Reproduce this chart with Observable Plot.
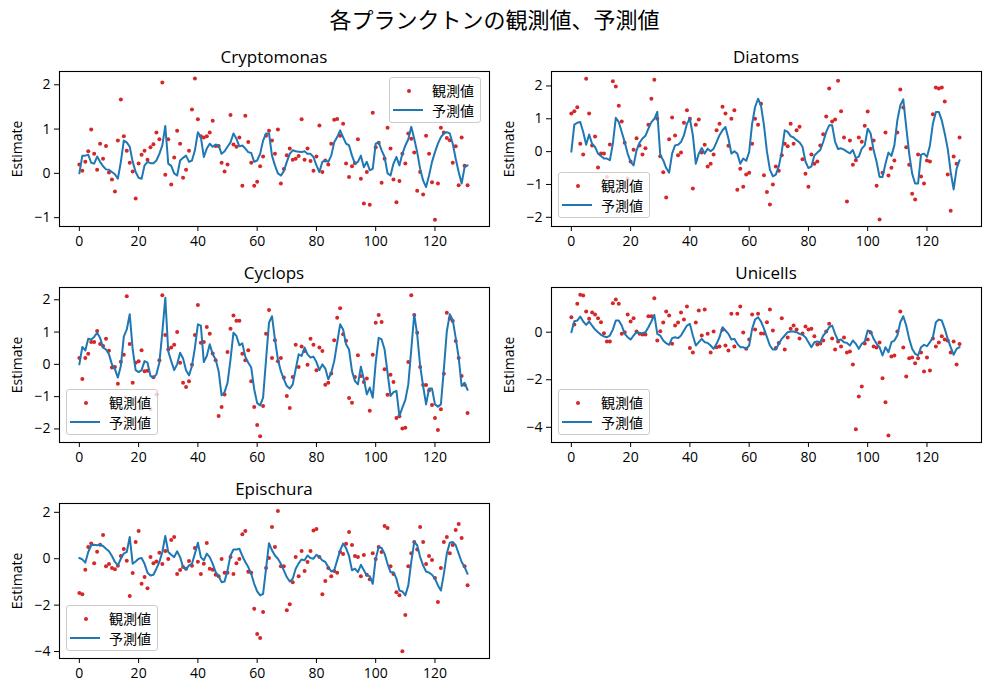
<!DOCTYPE html>
<html><head><meta charset="utf-8">
<script src="https://cdn.jsdelivr.net/npm/d3@7"></script>
<script src="https://cdn.jsdelivr.net/npm/@observablehq/plot@0.6"></script>
<style>
body{margin:0;background:#fff;}
#fig{position:relative;width:989px;height:691px;background:#fff;font-family:'Open Sans','Noto Sans CJK JP',sans-serif;color:#000;overflow:hidden}
.abs{position:absolute}
.suptitle{left:0;width:989px;top:3px;line-height:30px;text-align:center;font-size:22px;font-family:'Noto Sans CJK JP',sans-serif}
.title{width:430px;text-align:center;font-size:17px;line-height:20px;white-space:nowrap}
.ylabel{width:140px;height:20px;line-height:20px;text-align:center;font-size:14px;transform:rotate(-90deg)}
.legend{width:92px;height:46px;box-sizing:border-box;border:1px solid #cccccc;border-radius:3px;background:rgba(255,255,255,0.8)}
.legend .dot{position:absolute;left:17px;top:10.5px;width:4px;height:4px;border-radius:50%;background:#d62728}
.legend .ln{position:absolute;left:3px;top:30.5px;width:30px;height:2px;background:#1f77b4}
.legend .tx{position:absolute;left:42px;font-size:14px;line-height:18px;font-family:'Noto Sans CJK JP',sans-serif;white-space:nowrap}
</style>
</head><body>
<div id="fig"><div class="abs suptitle">各プランクトンの観測値、予測値</div></div>
<script>
const panelNames = ["Cryptomonas", "Diatoms", "Cyclops", "Unicells", "Epischura"];
const legendLabels = ["観測値", "予測値"];
const yLabel = "Estimate";
const xTicks = [0, 20, 40, 60, 80, 100, 120];

const cryptomonasObs = [0.2, 0.06, 0.26, 0.5, 0.99, 0.44, 0.08, 0.67, 0.33, 0.62,
 0.02, -0.14, -0.41, 0.74, 1.67, 0.84, 0.51, 0.24, 0.04, -0.57,
 0.22, 0.42, 0.51, 0.31, 0.59, 0.66, 0.92, 0.77, 2.05, -0.03,
 0.77, -0.25, 0.36, 0.96, 0.67, -0.1, 0.08, 0.51, 1.44, 2.14,
 1.22, 0.84, 0.81, 0.84, 0.92, 1.19, 0.62, 0.62, 0.24, 0.04,
 0.2, 1.32, 0.65, 0.6, 0.81, -0.28, 1.3, 0.71, 0.24, -0.28,
 -0.19, 0.16, 0.38, 0.85, 0.96, 0.74, 0.44, 0.99, -0.23, 0.1,
 0.41, 0.56, 0.31, 0.33, 0.39, 1.22, 0.31, 0.56, 0.28, 0.06,
 0.38, 1.08, 0.03, 0.29, 0.2, 0.67, 1.21, 1.23, 0.85, 1.12,
 0.22, -0.08, 0.16, 0.23, 0.77, -0.12, -0.68, 0.03, -0.71, 1.37,
 0.59, 0.69, -0.21, 0.33, 1.03, 0.56, -0.14, -0.65, -0.17, 0.44,
 0.22, 0.9, 0.78, 0.47, -0.39, 0.03, -0.48, 0.85, 0.44, -0.2,
 -1.05, -0.23, 1.03, 0.92, 0.8, 0.75, 0.24, 0.61, -0.27, 0.81,
 0.17, -0.27];
const cryptomonasPred = [0, 0.4, 0.4, 0.42, 0.24, 0.22, 0.38, 0.26, 0.16, 0.09,
 0.08, 0.03, -0.02, -0.12, 0.26, 0.74, 0.7, 0.6, 0.26, 0.03,
 -0.1, -0.12, 0.18, 0.26, 0.23, 0.23, 0.29, 0.44, 0.63, 1.07,
 0.22, 0.17, 0, -0.05, 0.29, 0.35, 0.4, 0.26, 0.29, 0.52,
 0.93, 0.82, 0.37, 0.56, 0.67, 0.6, 0.65, 0.63, 0.44, 0.5,
 0.6, 0.7, 0.9, 0.78, 0.61, 0.63, 0.56, 0.48, 0.46, 0.26,
 0.29, 0.44, 0.74, 0.9, 0.9, 0.4, 0.18, 0, -0.05, 0.05,
 0.26, 0.44, 0.52, 0.5, 0.49, 0.48, 0.5, 0.44, 0.44, 0.37,
 0.18, 0.03, 0.26, 0.29, 0.26, 0.4, 0.7, 0.82, 0.97, 0.82,
 0.67, 0.63, 0.4, 0.22, 0.26, 0.4, 0.14, 0.26, 0.07, 0.1,
 0.67, 0.7, 0.52, 0.37, 0, -0.05, 0.22, 0.37, 0.18, 0.44,
 0.63, 0.77, 1.05, 0.78, 0.48, 0.1, -0.16, -0.31, -0.05, 0.26,
 0.48, 0.67, 0.82, 0.9, 0.93, 0.9, 0.67, 0.33, 0.03, -0.23,
 0.14, 0.18];

const diatomsObs = [1.16, 1.23, 1.35, 0.24, -0.09, 2.22, 1.16, 0.19, 0.46, -0.48,
 -0.06, -0.06, -0.77, 0.22, 2.14, 1.98, 1.4, 0.92, 0.27, -0.82,
 -0.3, 0.06, 0.41, 0.19, -0.09, 0.1, 0.82, 1.61, 2.19, 1.0,
 -0.14, -0.63, -1.4, 0.38, 1.04, 0.49, -0.11, -0.03, 0.88, 1.26,
 1.0, -1.12, 0.82, 0.98, -0.03, 0.21, -0.45, -0.37, -0.09, 0.65,
 0.85, 1.37, 1.16, 0.18, 1.0, 1.26, -1.16, -0.52, -1.07, -0.7,
 -0.64, 0.24, 1.0, 0.82, 1.46, -0.72, -1.23, -1.61, -1.0, -0.45,
 -0.58, -0.11, 0.24, 0.16, 0.85, 0.24, 0.65, 0.76, -0.23, -0.67,
 -1.07, -0.09, -0.37, -0.3, 0.19, 0.53, 1.07, 1.92, 0.92, 0.98,
 2.16, 1.23, 0.43, -1.52, 0.34, -0.4, -0.26, 0.43, 0.3, 0.79,
 1.22, 0.09, 0.34, -1.04, -2.07, -0.64, 0.58, -0.73, -0.49, -0.27,
 0.58, 1.89, 1.34, 0.13, -0.4, -1.28, -1.46, -0.09, -0.76, -0.97,
 -0.27, -0.3, 1.14, 1.95, 1.92, 1.95, 1.53, -0.7, -1.8, -0.15,
 -0.37, 0.43];
const diatomsPred = [0, 0.82, 0.88, 0.9, 0.6, 0.21, 0.52, 0.24, 0.14, -0.06,
 -0.13, -0.21, -0.21, -0.26, 0.24, 1.03, 0.9, 0.6, 0.29, -0.06,
 -0.31, -0.42, 0.04, 0.27, 0.4, 0.48, 0.7, 0.9, 1.0, 1.21,
 -0.11, -0.26, -0.5, -0.64, -0.06, 0.19, 0.21, 0.29, 0.5, 0.85,
 1.0, 0.5, -0.37, -0.06, 0.11, -0.06, 0.09, 0.01, 0.09, 0.29,
 0.5, 0.65, 0.75, 0.4, -0.06, 0.01, -0.06, -0.37, -0.21, -0.28,
 -0.01, 0.85, 1.36, 1.61, 1.4, 0.8, 0.0, -0.55, -0.75, -0.7,
 -0.45, 0.0, 0.65, 0.6, 0.47, 0.43, 0.35, 0.28, 0.15, -0.3,
 -0.5, -0.45, -0.12, -0.03, 0.05, 0.3, 0.6, 0.8, 0.8, 0.3,
 0.08, 0.1, 0.06, 0.0, -0.05, 0.05, -0.2, -0.15, 0.09, 0.19,
 0.7, 0.55, 0.04, -0.31, -0.77, -0.77, -0.37, -0.03, -0.13, 0.19,
 0.95, 1.41, 1.59, 0.75, -0.06, -0.67, -0.97, -0.97, -0.09, -0.06,
 -0.16, 0.19, 0.85, 1.21, 1.21, 0.95, 0.55, 0.09, -0.62, -1.15,
 -0.52, -0.26];

const cyclopsObs = [0.2, -0.45, 0.2, 0.33, 0.69, 0.69, 1.03, 0.63, 0.57, 0.79,
 0.42, -0.1, -0.08, -0.6, 0.08, 0.3, 2.11, 0.63, -0.57, 0.05,
 0.1, 0.44, -0.21, -0.2, -1.39, -0.4, -0.93, 0.13, 2.14, 0.91,
 0.46, 0.52, 0.61, 1.0, 0.05, -0.57, -0.7, -0.52, -0.01, 0.91,
 1.84, 0.67, 0.69, 1.16, 0.95, 0.34, 0.13, -1.6, -1.32, -0.93,
 0.38, 1.1, 1.51, 1.35, 1.35, 0.33, 0.13, 0.44, -0.52, -1.32,
 -1.88, -2.23, -1.29, 0.95, 1.68, 0.2, 0.75, 0.1, 0.2, -0.41,
 -0.98, -1.35, -0.39, 0.61, -0.08, 0.55, 0.41, -0.01, 0.79, 0.61,
 -0.18, 0.52, 0.41, -0.63, -0.57, -0.28, 0.75, 1.44, 1.74, 0.93,
 0.73, -1.04, -1.19, -0.39, 0.28, -0.36, -0.55, -0.44, -1.44, 0.3,
 1.29, 1.53, 1.31, -0.15, -0.94, -0.32, -0.55, -1.66, -1.61, -1.99,
 -1.96, 0.07, 2.14, 1.53, 0.98, -0.08, -0.64, -0.64, -0.8, -1.26,
 -1.66, -2.03, -1.39, -0.29, 1.6, 1.41, 1.34, 0.72, 0.2, -0.36,
 -0.63, -1.51];
const cyclopsPred = [0, 0.54, 0.43, 0.79, 0.77, 0.85, 0.98, 0.82, 0.52, 0.46,
 0.31, 0, -0.15, -0.41, -0.05, 0.86, 1.08, 1.55, 0.46, -0.18,
 -0.24, -0.18, 0.1, 0.05, -0.36, -0.41, -0.31, 0.05, 1.0, 2.06,
 0.4, 0.1, -0.18, 0, 0.36, 0.18, -0.18, -0.34, -0.05, 0.52,
 1.24, 1.2, 0.07, 0.26, 0.62, 0.31, 0.15, -0.21, -0.96, -0.86,
 -0.57, 0.15, 0.98, 0.88, 0.59, 0.65, 0.24, 0.05, -0.1, -0.77,
 -1.2, -1.27, -1.03, 0.15, 1.29, 1.49, 0.77, 0.15, -0.21, -0.46,
 -0.67, -0.75, -0.62, -0.15, 0.31, 0.26, 0.52, 0.31, 0.21, 0.24,
 0.07, -0.18, 0, -0.13, -0.46, -0.26, 0.1, 0.67, 1.24, 1.08,
 0.62, 0.46, -0.21, -0.52, -0.62, -0.07, -0.46, -0.93, -0.72, -1.03,
 0.05, 0.82, 0.77, 0.46, -0.26, -0.98, -0.86, -0.82, -1.6, -1.34,
 -1.1, -0.62, 0.46, 1.55, 0.93, -0.05, -0.67, -1.24, -0.75, -0.75,
 -1.24, -1.31, -1.24, -0.15, 1.03, 1.55, 1.37, 0.82, 0.21, -0.67,
 -0.57, -0.79];

const unicellsObs = [0.63, 0.32, 1.2, 1.58, 1.54, 0.87, 0.57, 0.83, 0.74, 0.59,
 0.42, -0.04, -0.39, -0.39, 1.22, 1.38, 1.2, -0.07, 0.0, 0.74,
 0.45, 0.59, 0.03, -0.07, -0.1, -0.1, 0.67, 0.67, 1.43, -0.35,
 0.04, 0.41, 0.87, 0.7, -0.49, 0.28, 0.41, 0.83, 0.53, 1.08,
 -0.67, -0.85, 0.41, 0.91, -0.14, 0.95, -0.07, -0.85, 0.03, -0.63,
 -0.6, 0.1, -0.56, -0.77, 0.78, -0.6, 0.78, 1.08, -0.01, -0.7,
 -0.31, 0.74, 0.11, 0.78, -0.06, -0.06, 0.42, 0.95, 0.07, -0.67,
 -0.45, 0.59, -0.73, -0.22, 0.15, 0.28, 0.11, -0.27, -0.06, 0.24,
 0.11, 0.15, -0.17, -0.52, -0.48, -0.35, 0.03, 0.36, -0.27, -0.73,
 -0.39, -0.6, -0.22, -0.85, -0.81, -1.36, -4.08, -2.7, -2.28, -0.48,
 -0.31, -0.01, -0.6, -0.64, -0.43, -1.94, -2.95, -4.35, -1.02, -0.98,
 0.03, 0.87, -0.64, -1.86, -1.1, -1.06, -1.31, -1.1, -0.85, -1.65,
 -1.06, -1.61, -0.27, -0.6, -0.43, -0.17, -0.31, -0.35, -0.85, -0.39,
 -1.36, -0.5];
const unicellsPred = [0, 0.46, 0.49, 0.66, 0.45, 0.31, 0.45, 0.28, 0.11, 0,
 -0.11, -0.18, -0.21, -0.14, 0.11, 0.49, 0.49, 0.28, -0.07, -0.21,
 -0.31, -0.14, 0, -0.03, -0.04, 0, 0.21, 0.45, 0.73, -0.07,
 -0.14, -0.35, -0.46, -0.53, -0.25, -0.21, -0.25, -0.14, 0.07, 0.28,
 0.35, -0.14, -0.56, -0.42, -0.28, -0.42, -0.45, -0.56, -0.7, -0.49,
 -0.21, 0.21, 0.07, -0.07, -0.31, -0.28, -0.49, -0.63, -0.63, -0.7,
 -0.56, 0.14, 0.53, 0.63, 0.45, 0.15, -0.21, -0.56, -0.73, -0.73,
 -0.49, -0.28, -0.14, 0, 0.03, 0.03, 0, -0.07, -0.11, -0.21,
 -0.42, -0.63, -0.42, -0.39, -0.42, -0.14, 0, 0.21, 0.28, -0.07,
 -0.35, -0.31, -0.42, -0.45, -0.56, -0.35, -0.49, -0.7, -0.49, -0.39,
 0.07, 0.03, -0.28, -0.49, -0.63, -0.98, -0.63, -0.84, -0.42, -0.35,
 -0.14, 0.42, 0.67, 0.28, -0.28, -0.7, -0.91, -0.98, -0.63, -0.53,
 -0.59, -0.42, -0.21, 0.42, 0.53, 0.49, 0.14, -0.28, -0.63, -0.95,
 -0.7, -0.63];

const epischuraObs = [-1.48, -1.53, -0.47, 0.5, 0.66, -0.19, 0.3, 0.6, 1.02, -0.32,
 -0.23, -0.4, -0.45, -0.3, 0.12, 0.42, -0.09, -1.61, -0.62, 0.72,
 1.19, -1.08, -0.79, -1.27, 0.07, -0.19, -0.12, 0.26, -0.23, 0.33,
 -0.01, 0.81, 0.94, -0.66, -0.49, -0.36, -0.43, -0.1, -0.3, 0.46,
 -0.13, -0.66, -0.22, 0.68, -0.43, -0.47, -0.69, -0.75, -0.01, -0.6,
 -0.6, 0.07, -0.66, -0.19, -0.01, 1.06, 1.19, -0.56, -0.6, -2.16,
 -3.24, -3.42, -2.3, -0.4, 0.03, 1.37, 0.5, 2.06, -0.32, -0.32,
 -2.22, -1.96, -1.01, 0.07, -0.75, 0.33, -0.53, -0.14, 0.33, 1.22,
 1.28, 0.07, -1.53, -0.96, -0.4, -0.75, -0.53, -0.6, 0.29, 0.2,
 0.65, 1.15, 0.59, 0.12, 0.07, -0.75, 0.16, -0.69, -0.88, 0.24,
 -0.01, 0.5, 0.29, 1.41, 1.32, -0.32, -0.66, -1.44, -1.57, -3.99,
 -2.43, -0.32, 0.24, 0.72, 0.4, 1.37, 0.72, -0.23, 0.12, -0.06,
 -0.83, -1.87, -0.4, 0.72, 0.94, 0.24, 0.59, 1.24, 1.5, 0.89,
 -0.32, -1.14];
const epischuraPred = [0.03, -0.03, -0.17, 0.29, 0.58, 0.6, 0.58, 0.6, 0.55, 0.43,
 0.32, 0.12, -0.14, -0.29, 0, 0.22, 0.29, 0.94, -0.22, -0.12,
 0, 0.03, -0.22, -0.6, -0.72, -0.69, -0.43, -0.14, 0.29, 0.98,
 0.29, 0.17, 0.07, 0.32, 0.07, -0.36, -0.46, -0.29, -0.22, 0.22,
 0.69, 0.07, -0.07, 0.22, 0.07, -0.22, -0.58, -0.75, -1.01, -0.98,
 -0.5, 0.14, 0.4, 0.4, 0.43, 0.12, -0.14, -0.36, -0.65, -1.08,
 -1.41, -1.58, -1.51, -0.43, 0.67, 0.36, 0.14, 0, -0.22, -0.5,
 -0.79, -0.98, -0.86, -0.43, -0.2, -0.03, -0.07, 0.14, 0.03, 0,
 0.17, 0.07, -0.07, -0.14, -0.36, -0.55, -0.5, -0.07, 0.36, 0.65,
 0.46, 0.12, -0.5, -0.43, -0.58, -0.26, -0.5, -0.72, -0.75, -1.08,
 0, 0.5, 0.46, 0.22, -0.22, -0.58, -0.58, -0.86, -1.37, -1.41,
 -1.58, -1.15, -0.14, 0.72, 0.58, 0.07, -0.29, -0.55, -0.6, -0.69,
 -0.86, -1.15, -1.37, -0.65, 0.22, 0.69, 0.72, 0.58, 0.22, -0.14,
 -0.36, -0.65];

const yDomains = [[-1.2, 2.3], [-2.28, 2.44], [-2.42, 2.38], [-4.64, 1.88], [-4.3, 2.38]];
const yTickSets = [[-1, 0, 1, 2], [-2, -1, 0, 1, 2], [-2, -1, 0, 1, 2], [-4, -2, 0], [-4, -2, 0, 2]];
const obsSeries = [cryptomonasObs, diatomsObs, cyclopsObs, unicellsObs, epischuraObs];
const predSeries = [cryptomonasPred, diatomsPred, cyclopsPred, unicellsPred, epischuraPred];

// layout (pixels of the figure)
const axW = 430, axH = 155;
const axPos = [[59, 71], [551, 71], [59, 287], [551, 287], [59, 503]];
// legend: upper right for first, lower left for others
const legendPos = [[389, 77], [558, 172], [66, 389], [558, 389], [66, 605]];

const fig = document.getElementById("fig");
const fmt = d => (d < 0 ? "\u2212" : "") + Math.abs(d);

panelNames.forEach((name, p) => {
  const obs = obsSeries[p], pred = predSeries[p];
  const table = obs.map((v, i) => ({t: i, obs: v, pred: pred[i]}));
  const [ax, ay] = axPos[p];
  const mL = 60, mR = 10, mT = 10, mB = 35;
  const chart = Plot.plot({
    width: axW + mL + mR,
    height: axH + mT + mB,
    marginLeft: mL, marginRight: mR, marginTop: mT, marginBottom: mB,
    style: {fontSize: "14px", fontFamily: "'Open Sans','Noto Sans CJK JP',sans-serif", background: "transparent", color: "black", overflow: "visible"},
    x: {domain: [-6.7, 138.4]},
    y: {domain: yDomains[p]},
    marks: [
      Plot.dot(table, {x: "t", y: "obs", r: 2, fill: "#d62728"}),
      Plot.line(table, {x: "t", y: "pred", stroke: "#1f77b4", strokeWidth: 2}),
      Plot.frame({stroke: "black", strokeWidth: 1.1}),
      Plot.axisX({ticks: xTicks, tickSize: 5, tickPadding: 5, label: null, tickFormat: fmt}),
      Plot.axisY({ticks: yTickSets[p], tickSize: 5, tickPadding: 4, label: null, tickFormat: fmt})
    ]
  });
  chart.classList.add("abs");
  chart.style.left = (ax - mL) + "px";
  chart.style.top = (ay - mT) + "px";
  fig.appendChild(chart);

  const title = document.createElement("div");
  title.className = "abs title";
  title.style.left = ax + "px";
  title.style.top = (ay - 24) + "px";
  title.textContent = name;
  fig.appendChild(title);

  const yl = document.createElement("div");
  yl.className = "abs ylabel";
  yl.style.left = (ax - 42 - 70) + "px";
  yl.style.top = (ay + axH / 2 - 10) + "px";
  yl.textContent = yLabel;
  fig.appendChild(yl);

  const lg = document.createElement("div");
  lg.className = "abs legend";
  lg.style.left = legendPos[p][0] + "px";
  lg.style.top = legendPos[p][1] + "px";
  lg.innerHTML = `<div class="dot"></div><div class="tx" style="top:3px">${legendLabels[0]}</div>` +
                 `<div class="ln"></div><div class="tx" style="top:22.5px">${legendLabels[1]}</div>`;
  fig.appendChild(lg);
});
</script>
</body></html>
